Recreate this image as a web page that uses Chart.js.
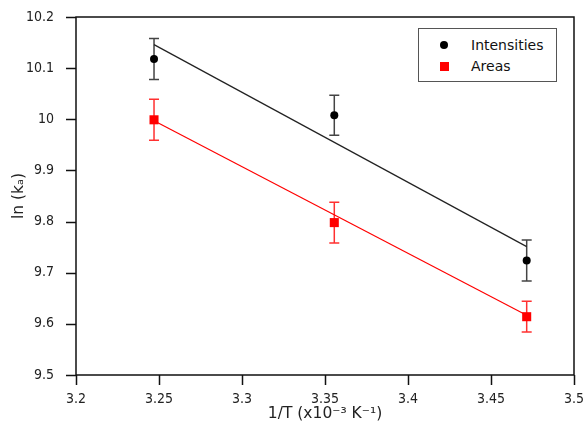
<!DOCTYPE html>
<html>
<head>
<meta charset="utf-8">
<script src="https://cdn.jsdelivr.net/npm/chart.js@4/dist/chart.umd.min.js"></script>
<style>
  body { margin: 0; background: #fff; }
  #wrap { position: relative; width: 583px; height: 426px; }
  #legend {
    position: absolute; left: 418px; top: 28px; width: 137px; height: 52px;
    border: 1px solid #555; background: #fff;
    font-family: "DejaVu Sans", sans-serif; font-size: 14px; color: #111;
  }
  #legend .row { position: absolute; left: 0; height: 20px; line-height: 20px; }
  #legend .mk { position: absolute; left: 21px; top: 6px; }
  #legend .txt { position: absolute; left: 52px; white-space: nowrap; }
</style>
</head>
<body>
<div id="wrap">
  <canvas id="myChart" width="583" height="426"></canvas>
  <div id="legend">
    <div class="row" style="top:6px"><span class="mk" style="width:8px;height:8px;border-radius:4px;background:#000"></span><span class="txt">Intensities</span></div>
    <div class="row" style="top:27px"><span class="mk" style="left:21px;width:9px;height:9px;background:#f00"></span><span class="txt">Areas</span></div>
  </div>
</div>
<script>
// 1/T in units of 1e-3 K^-1
const invTemp = [3.247, 3.3556, 3.4715];

const intensities = [10.118, 10.008, 9.724];
const intensityErr = [0.04, 0.039, 0.04];

const areas = [9.999, 9.798, 9.614];
const areaErr = [0.04, 0.04, 0.03];

// linear fits, start and end of each line
const fitX = [3.247, 3.4715];
const intensityFit = [10.146, 9.751];
const areaFit = [9.997, 9.617];

const xTicks = [3.2, 3.25, 3.3, 3.35, 3.4, 3.45, 3.5];
const yTicks = [9.5, 9.6, 9.7, 9.8, 9.9, 10, 10.1, 10.2];

const TICK_LEN = 10;

const pts = (xs, ys) => xs.map((x, i) => ({ x: x, y: ys[i] }));

// fixed axis boxes, no extra room for overhanging end labels
const fixBox = (size) => (scale) => {
    if (scale.isHorizontal()) scale.height = size; else scale.width = size;
    scale.paddingLeft = scale.paddingRight = 0;
    scale.paddingTop = scale.paddingBottom = 0;
};

// vertical error bars with caps, drawn under the markers
const errorBars = {
    id: 'errorBars',
    beforeDatasetsDraw(chart) {
        const ctx = chart.ctx;
        const xs = chart.scales.x, ys = chart.scales.y;
        chart.data.datasets.forEach((ds) => {
            if (!ds.errors) return;
            ctx.save();
            ctx.strokeStyle = ds.errorColor;
            ctx.lineWidth = 1.5;
            ds.data.forEach((p, i) => {
                const px = xs.getPixelForValue(p.x);
                const top = ys.getPixelForValue(p.y + ds.errors[i]);
                const bot = ys.getPixelForValue(p.y - ds.errors[i]);
                ctx.beginPath();
                ctx.moveTo(px, top); ctx.lineTo(px, bot);
                ctx.moveTo(px - 5, top); ctx.lineTo(px + 5, top);
                ctx.moveTo(px - 5, bot); ctx.lineTo(px + 5, bot);
                ctx.stroke();
            });
            ctx.restore();
        });
    }
};

// box round the plot plus outward tick marks on the left and bottom axes
const frame = {
    id: 'frame',
    afterDraw(chart) {
        const a = chart.chartArea, ctx = chart.ctx;
        const xs = chart.scales.x, ys = chart.scales.y;
        ctx.save();
        ctx.strokeStyle = '#111';
        ctx.lineWidth = 1.5;
        ctx.beginPath();
        ctx.moveTo(a.left, a.top);
        ctx.lineTo(a.right, a.top);
        ctx.lineTo(a.right, a.bottom);
        ctx.lineTo(a.left, a.bottom);
        ctx.closePath();
        xTicks.forEach((v) => {
            const px = Math.round(xs.getPixelForValue(v)) + 0.5;
            ctx.moveTo(px, a.bottom);
            ctx.lineTo(px, a.bottom + TICK_LEN);
        });
        yTicks.forEach((v) => {
            const py = Math.round(ys.getPixelForValue(v)) + 0.5;
            ctx.moveTo(a.left, py);
            ctx.lineTo(a.left - TICK_LEN, py);
        });
        ctx.stroke();
        ctx.restore();
    }
};

const data = {
    datasets: [{
        label: 'Intensities fit',
        data: pts(fitX, intensityFit),
        showLine: true,
        borderColor: '#222',
        borderWidth: 1.2,
        pointRadius: 0
    }, {
        label: 'Areas fit',
        data: pts(fitX, areaFit),
        showLine: true,
        borderColor: '#ff0000',
        borderWidth: 1.2,
        pointRadius: 0
    }, {
        label: 'Intensities',
        data: pts(invTemp, intensities),
        errors: intensityErr,
        errorColor: '#444',
        pointStyle: 'circle',
        pointRadius: 4,
        backgroundColor: '#000',
        borderColor: '#000',
        borderWidth: 0
    }, {
        label: 'Areas',
        data: pts(invTemp, areas),
        errors: areaErr,
        errorColor: '#ff3030',
        pointStyle: 'rect',
        pointRadius: 6.4,
        backgroundColor: '#ff0000',
        borderColor: '#ff0000',
        borderWidth: 0
    }]
};

const tickFont = { family: '"DejaVu Sans Condensed", "DejaVu Sans"', size: 14 };
const titleFont = { family: 'DejaVu Sans', size: 15.5 };

const config = {
    type: 'scatter',
    data: data,
    options: {
        responsive: false,
        animation: false,
        layout: {
            padding: { top: 17, right: 9, left: 0, bottom: 0 }
        },
        plugins: {
            legend: { display: false },
            tooltip: { enabled: false }
        },
        scales: {
            x: {
                type: 'linear',
                min: 3.2,
                max: 3.5,
                afterBuildTicks: (scale) => { scale.ticks = xTicks.map(v => ({ value: v })); },
                afterFit: fixBox(51),
                border: { display: false },
                grid: { display: false },
                ticks: {
                    padding: 8,
                    color: '#222',
                    font: tickFont,
                    maxRotation: 0,
                    callback: (v) => String(+v.toFixed(2))
                },
                title: {
                    display: true,
                    text: '1/T (x10⁻³ K⁻¹)',
                    color: '#222',
                    font: titleFont,
                    padding: { top: 0, bottom: 3 }
                }
            },
            y: {
                min: 9.5,
                max: 10.2,
                afterBuildTicks: (scale) => { scale.ticks = yTicks.map(v => ({ value: v })); },
                afterFit: fixBox(76),
                border: { display: false },
                grid: { display: false },
                ticks: {
                    padding: 14,
                    color: '#222',
                    font: tickFont,
                    callback: (v) => String(+v.toFixed(1))
                },
                title: {
                    display: true,
                    text: 'ln (kₐ)',
                    color: '#222',
                    font: titleFont,
                    padding: { top: 10, bottom: 0 }
                }
            }
        }
    },
    plugins: [errorBars, frame]
};

const myChart = new Chart(
    document.getElementById('myChart'),
    config
);
</script>
</body>
</html>
